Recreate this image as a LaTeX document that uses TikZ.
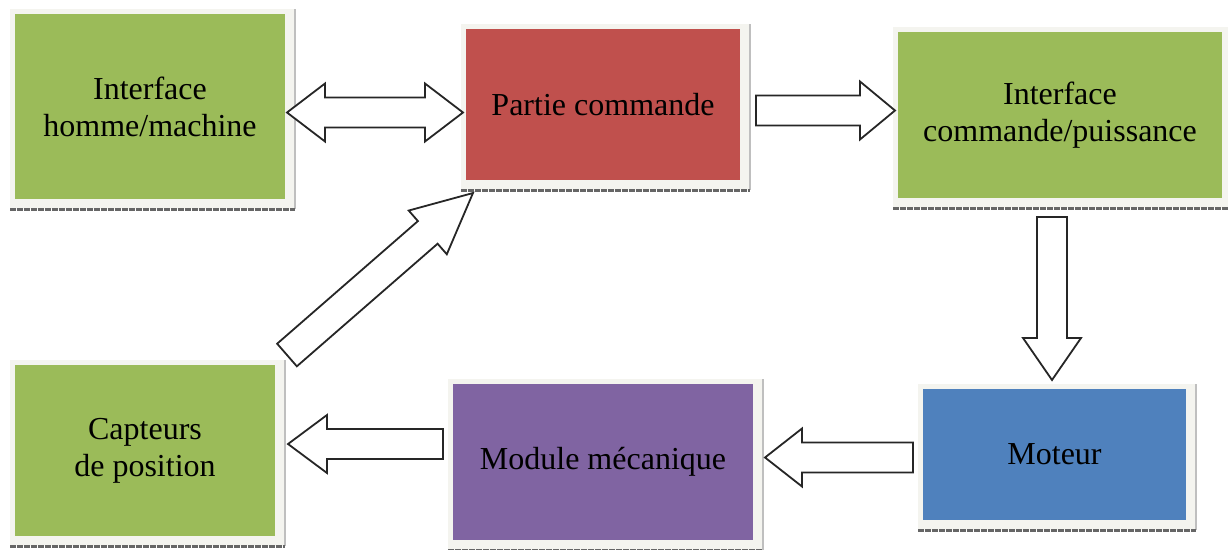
\documentclass[tikz,border=0pt]{standalone}
\usepackage{fontspec}
\setmainfont{Liberation Serif}
\usetikzlibrary{calc,backgrounds}

\definecolor{boxgreen}{HTML}{9BBB59}
\definecolor{boxred}{HTML}{C0504D}
\definecolor{boxblue}{HTML}{4F81BD}
\definecolor{boxpurple}{HTML}{8064A2}
\definecolor{framefill}{HTML}{F4F4EF}

\def\shaftw{15pt}
\def\headw{29pt}
% block arrow from #2 to #3, #1 = head length
\newcommand{\blkarrow}[3][38pt]{%
  \draw[blockarrow] let \p1=($(#3)-(#2)$), \n1={veclen(\x1,\y1)}, \n2={atan2(\y1,\x1)} in
    [shift={(#2)}, rotate=\n2]
    (0pt,-\shaftw) -- ({\n1-#1},-\shaftw) -- ({\n1-#1},-\headw) -- ({\n1+0pt},0pt)
    -- ({\n1-#1},\headw) -- ({\n1-#1},\shaftw) -- (0pt,\shaftw) -- cycle;}
% double block arrow between #2 and #3
\newcommand{\blkdarrow}[3][38pt]{%
  \draw[blockarrow] let \p1=($(#3)-(#2)$), \n1={veclen(\x1,\y1)}, \n2={atan2(\y1,\x1)} in
    [shift={(#2)}, rotate=\n2]
    (0pt,0pt) -- (#1,-\headw) -- (#1,-\shaftw) -- ({\n1-#1},-\shaftw) -- ({\n1-#1},-\headw)
    -- ({\n1+0pt},0pt) -- ({\n1-#1},\headw) -- ({\n1-#1},\shaftw) -- (#1,\shaftw) -- (#1,\headw) -- cycle;}

\tikzset{
  box/.style={rectangle, inner sep=0pt, outer sep=0pt, align=center, text=black,
    font=\fontsize{32}{37}\selectfont},
  blockarrow/.style={draw=black!85, fill=white, line width=1.8pt, line join=miter},
  frameedge/.style={draw=black!25, line width=1.5pt},
  frameshadow/.style={draw=black!60, line width=3pt, dash pattern=on 6pt off 1pt},
}

\begin{document}
\begin{tikzpicture}[x=1pt, y=-1pt]
    \useasboundingbox (0,0) rectangle (1228,549);

    % blocks
    \node[box, fill=boxgreen, minimum width=270, minimum height=185] (ihm) at (150,106.5) {Interface\\homme/machine};
    \node[box, fill=boxred, minimum width=274, minimum height=151] (pc) at (603,104.5) {Partie commande};
    \node[box, fill=boxgreen, minimum width=324, minimum height=166] (icp) at (1060,115) {Interface\\commande/puissance};
    \node[box, fill=boxblue, minimum width=263, minimum height=131] (mot) at (1054.5,454.5) {Moteur};
    \node[box, fill=boxpurple, minimum width=300, minimum height=156] (mod) at (603,462) {Module mécanique};
    \node[box, fill=boxgreen, minimum width=260, minimum height=171] (cap) at (145,450.5) {Capteurs\\de position};

    % picture frames
    \begin{scope}[on background layer]
        \foreach \b in {ihm,pc,icp,mot,mod,cap}{
            \fill[framefill] ($(\b.north west)+(-5,-5)$) rectangle ($(\b.south east)+(10,10)$);
            \draw[frameedge] ($(\b.north east)+(10,-5)$) -- ($(\b.south east)+(10,10)$);
            \draw[frameshadow] ($(\b.south west)+(-5,10)$) -- ($(\b.south east)+(10,10)$);
        }
    \end{scope}

    % arrow ends
    \coordinate (ihmR) at ($(ihm.east)+(2,6)$);
    \coordinate (pcL) at ($(ihmR -| pc.west)+(-3,0)$);
    \coordinate (pcR) at ($(pc.east)+(16,6)$);
    \coordinate (icpL) at ($(pcR -| icp.west)+(-3,0)$);
    \coordinate (icpB) at ($(icp.south)+(-8,19)$);
    \coordinate (motT) at ($(icpB |- mot.north)+(0,-9)$);
    \coordinate (motL) at ($(mot.west)+(-10,3)$);
    \coordinate (modR) at ($(motL -| mod.east)+(12,0)$);
    \coordinate (modL) at ($(mod.west)+(-10,-18)$);
    \coordinate (capR) at ($(modL -| cap.east)+(13,0)$);
    \coordinate (capT) at ($(cap.north east)+(12,-10)$);
    \coordinate (pcB) at ($(pc.south west)+(7,13)$);

    % arrows
    \blkdarrow{ihmR}{pcL}
    \blkarrow[35pt]{pcR}{icpL}
    \blkarrow[42pt]{icpB}{motT}
    \blkarrow[37pt]{motL}{modR}
    \blkarrow[39pt]{modL}{capR}
    \blkarrow[60pt]{capT}{pcB}
\end{tikzpicture}
\end{document}
